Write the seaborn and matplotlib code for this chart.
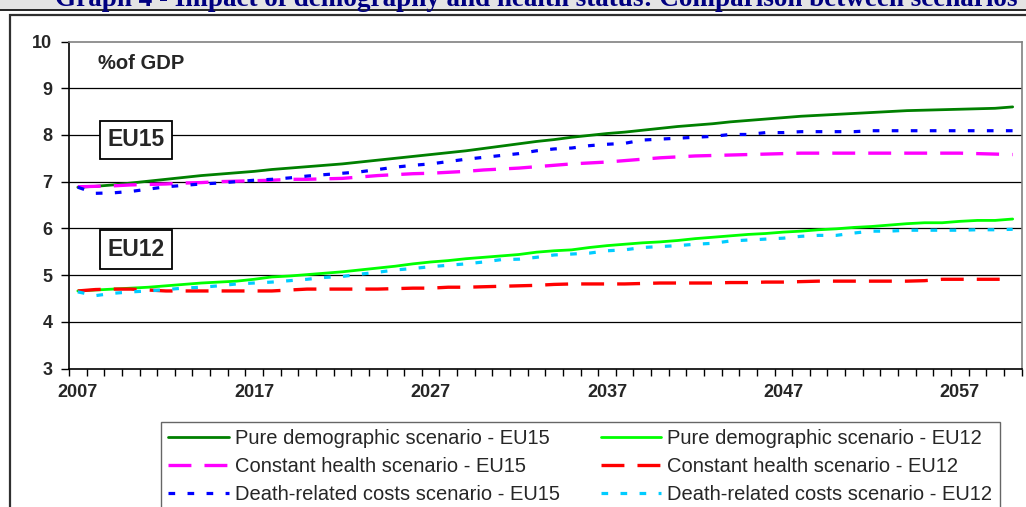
import numpy as np
import pandas as pd
import matplotlib
matplotlib.use("Agg")
import matplotlib.pyplot as plt
from matplotlib.patches import Rectangle
from matplotlib.lines import Line2D
import seaborn as sns

# Projection years and health-care spending (% of GDP) by scenario
years = list(range(2007, 2061))

pure_eu15 = [6.88, 6.90, 6.93, 6.97, 7.01, 7.05, 7.09, 7.13, 7.16, 7.19,
             7.22, 7.26, 7.29, 7.32, 7.35, 7.38, 7.42, 7.46, 7.50, 7.54,
             7.58, 7.62, 7.66, 7.71, 7.76, 7.81, 7.86, 7.90, 7.95, 7.99,
             8.03, 8.06, 8.10, 8.14, 8.18, 8.21, 8.24, 8.28, 8.31, 8.34,
             8.37, 8.40, 8.42, 8.44, 8.46, 8.48, 8.50, 8.52, 8.53, 8.54,
             8.55, 8.56, 8.57, 8.60]
const_eu15 = [6.89, 6.90, 6.91, 6.93, 6.94, 6.95, 6.97, 6.98, 7.00, 7.01,
              7.02, 7.03, 7.05, 7.05, 7.06, 7.07, 7.10, 7.13, 7.15, 7.17,
              7.18, 7.20, 7.22, 7.25, 7.27, 7.29, 7.32, 7.35, 7.38, 7.40,
              7.42, 7.45, 7.48, 7.51, 7.53, 7.55, 7.56, 7.57, 7.58, 7.59,
              7.60, 7.61, 7.61, 7.61, 7.61, 7.61, 7.61, 7.61, 7.61, 7.61,
              7.61, 7.60, 7.59, 7.58]
death_eu15 = [6.88, 6.75, 6.76, 6.79, 6.84, 6.89, 6.92, 6.95, 6.97, 7.00,
              7.03, 7.05, 7.08, 7.12, 7.15, 7.18, 7.21, 7.26, 7.31, 7.35,
              7.38, 7.43, 7.48, 7.52, 7.56, 7.60, 7.66, 7.70, 7.72, 7.77,
              7.80, 7.82, 7.89, 7.91, 7.93, 7.95, 7.97, 8.01, 8.01, 8.05,
              8.05, 8.07, 8.07, 8.07, 8.07, 8.09, 8.09, 8.09, 8.09, 8.09,
              8.09, 8.09, 8.09, 8.09]

pure_eu12 = [4.66, 4.68, 4.70, 4.72, 4.74, 4.77, 4.80, 4.83, 4.85, 4.87,
             4.91, 4.96, 4.98, 5.01, 5.04, 5.07, 5.11, 5.15, 5.19, 5.24,
             5.28, 5.31, 5.35, 5.38, 5.41, 5.44, 5.49, 5.52, 5.54, 5.59,
             5.63, 5.66, 5.69, 5.71, 5.74, 5.78, 5.81, 5.84, 5.87, 5.89,
             5.92, 5.94, 5.97, 5.99, 6.02, 6.04, 6.07, 6.10, 6.12, 6.12,
             6.15, 6.17, 6.17, 6.20]
const_eu12 = [4.66, 4.69, 4.70, 4.70, 4.68, 4.66, 4.66, 4.66, 4.66, 4.66,
              4.66, 4.66, 4.68, 4.70, 4.70, 4.70, 4.70, 4.70, 4.71, 4.72,
              4.72, 4.74, 4.74, 4.75, 4.76, 4.77, 4.78, 4.80, 4.81, 4.81,
              4.81, 4.81, 4.82, 4.83, 4.83, 4.83, 4.83, 4.84, 4.84, 4.85,
              4.85, 4.86, 4.87, 4.87, 4.87, 4.87, 4.87, 4.87, 4.88, 4.91,
              4.91, 4.91, 4.91, 4.91]
death_eu12 = [4.64, 4.56, 4.61, 4.64, 4.66, 4.69, 4.72, 4.74, 4.77, 4.81,
              4.83, 4.85, 4.88, 4.91, 4.95, 4.97, 5.02, 5.06, 5.11, 5.14,
              5.18, 5.21, 5.24, 5.28, 5.33, 5.34, 5.38, 5.43, 5.45, 5.47,
              5.52, 5.54, 5.59, 5.61, 5.63, 5.66, 5.68, 5.73, 5.75, 5.77,
              5.79, 5.83, 5.85, 5.85, 5.90, 5.94, 5.94, 5.96, 5.96, 5.96,
              5.96, 5.97, 5.97, 5.98]

labels = ["Pure demographic scenario - EU15",
          "Constant health scenario - EU15",
          "Death-related costs scenario - EU15",
          "Pure demographic scenario - EU12",
          "Constant health scenario - EU12",
          "Death-related costs scenario - EU12"]
y_ticks = [3, 4, 5, 6, 7, 8, 9, 10]
x_label_years = [2007, 2017, 2027, 2037, 2047, 2057]
title_text = "Graph 4 - Impact of demography and health status: Comparison between scenarios"

sns.set_theme(style="white")
plt.rcParams["font.family"] = ["Liberation Sans", "DejaVu Sans"]
plt.rcParams["lines.scale_dashes"] = False

W, H = 1026, 507
fig = plt.figure(figsize=(W / 100, H / 100), dpi=100)
fig.patch.set_facecolor("white")

# Header band; the page heading sits mostly above the top edge
fig.patches.append(Rectangle((0, 1 - 9 / H), 1, 9 / H, transform=fig.transFigure,
                             facecolor="#e4e4e4", edgecolor="none", zorder=0))
fig.lines.append(Line2D([0, 1], [1 - 9.5 / H] * 2, transform=fig.transFigure,
                        color="black", lw=1.2))
fig.text(55 / W, 1 - 5.5 / H, title_text, family="Liberation Serif", weight="bold",
         color="#000080", fontsize=19.5, va="baseline", ha="left")

# Outer chart frame (runs past the right and bottom edges)
fig.patches.append(Rectangle((9.5 / W, -0.05), 1.2, 1.05 - 14.5 / H,
                             transform=fig.transFigure, facecolor="none",
                             edgecolor="#303030", lw=1.6, zorder=1))

ax = fig.add_axes([69 / W, 1 - 368.5 / H, (1021.5 - 69) / W, (368.5 - 41.5) / H])
ax.set_facecolor("white")

solid = "-"
dashed = (0, (16.5, 9.4))
dotted = (0, (4.8, 8.9))
series = [
    (pure_eu15, "#008000", solid, 2.0),
    (const_eu15, "#ff00ff", dashed, 2.4),
    (death_eu15, "#0000ff", dotted, 2.3),
    (pure_eu12, "#00ff00", solid, 2.0),
    (const_eu12, "#ff0000", dashed, 2.4),
    (death_eu12, "#00ccff", dotted, 2.3),
]
for (vals, col, ls, lw), lab in zip(series, labels):
    sns.lineplot(x=years, y=vals, ax=ax, color=col, linestyle=ls, lw=lw,
                 label=lab, legend=False, zorder=3)

ax.set_xlim(2006.5, 2060.5)
ax.set_ylim(3, 10)
ax.set_yticks(y_ticks)
ax.set_xticks(x_label_years)
ax.set_xticks(np.arange(2006.5, 2061, 1), minor=True)
ax.set_xticklabels([str(y) for y in x_label_years])
ax.tick_params(axis="x", which="major", length=0, pad=11, labelsize=13)
ax.tick_params(axis="x", which="minor", length=5, width=1, color="black",
               direction="out", bottom=True)
ax.tick_params(axis="y", length=6, width=1, color="black", direction="out",
               pad=6, labelsize=13, left=True)
for t in ax.get_xticklabels() + ax.get_yticklabels():
    t.set_fontweight("bold")
ax.set_xlabel("")
ax.set_ylabel("")

for yv in y_ticks[1:-1]:
    ax.axhline(yv, color="black", lw=0.9, zorder=1)
for side in ("top", "right"):
    ax.spines[side].set_color("#808080")
    ax.spines[side].set_linewidth(1.2)
for side in ("left", "bottom"):
    ax.spines[side].set_color("black")
    ax.spines[side].set_linewidth(1.2)

ax.text(0.0304, 0.933, "%of GDP", transform=ax.transAxes, fontsize=14.5,
        fontweight="bold", ha="left", va="center", zorder=4)
for txt, yf in (("EU15", 0.699), ("EU12", 0.364)):
    ax.text(0.0703, yf, txt, transform=ax.transAxes, fontsize=16.5,
            fontweight="bold", ha="center", va="center", zorder=4,
            bbox=dict(boxstyle="square,pad=0.33", facecolor="white",
                      edgecolor="black", lw=1.3))

handles, labs = ax.get_legend_handles_labels()
leg = fig.legend(handles, labs, ncol=2, loc="upper left",
                 bbox_to_anchor=(160.5 / W, 1 - 421.5 / H),
                 bbox_transform=fig.transFigure, borderaxespad=0,
                 fontsize=14.5, frameon=True, fancybox=False, shadow=False,
                 handlelength=3.0, handletextpad=0.3, columnspacing=2.05,
                 labelspacing=0.45, borderpad=0.38)
leg.get_frame().set_edgecolor("#404040")
leg.get_frame().set_linewidth(1.0)

fig.savefig("out.png", dpi=100, facecolor="white")
